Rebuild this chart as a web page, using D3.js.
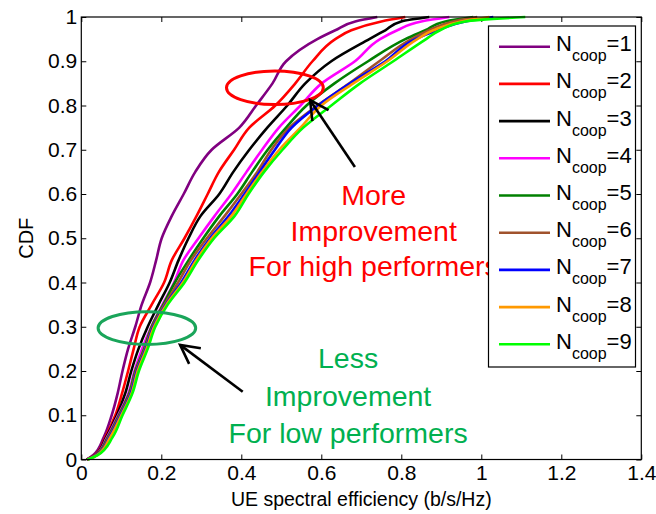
<!DOCTYPE html>
<html>
<head>
<meta charset="utf-8">
<script src="https://cdn.jsdelivr.net/npm/d3@7/dist/d3.min.js"></script>
<style>
  html, body { margin: 0; padding: 0; background: #fff; }
  svg { display: block; font-family: "Liberation Sans", Arial, Helvetica, sans-serif; }
</style>
</head>
<body>
<svg id="chart" width="656" height="514"></svg>
<script>
// CDF levels at which each curve's spectral efficiency quantile is listed
const cdfLevels = [0, 0.01, 0.05, 0.1, 0.15, 0.2, 0.25, 0.3, 0.35, 0.4, 0.45, 0.5,
                   0.55, 0.6, 0.65, 0.7, 0.75, 0.8, 0.85, 0.9, 0.95, 0.97, 0.99, 1];

// UE spectral efficiency (b/s/Hz) per number of cooperating cells
const coop1 = [0.014, 0.030, 0.056, 0.076, 0.091, 0.103, 0.117, 0.135, 0.151, 0.172, 0.187, 0.201,
               0.226, 0.256, 0.285, 0.326, 0.395, 0.437, 0.478, 0.512, 0.590, 0.635, 0.685, 0.740];
const coop2 = [0.014, 0.034, 0.060, 0.085, 0.102, 0.117, 0.131, 0.146, 0.176, 0.207, 0.226, 0.258,
               0.288, 0.316, 0.344, 0.382, 0.420, 0.485, 0.535, 0.578, 0.635, 0.675, 0.750, 0.810];
const coop3 = [0.014, 0.035, 0.062, 0.089, 0.110, 0.125, 0.143, 0.166, 0.193, 0.221, 0.243, 0.268,
               0.298, 0.345, 0.380, 0.420, 0.465, 0.515, 0.560, 0.625, 0.720, 0.760, 0.800, 0.870];
const coop4 = [0.015, 0.036, 0.064, 0.092, 0.118, 0.133, 0.152, 0.175, 0.203, 0.232, 0.255, 0.293,
               0.333, 0.375, 0.413, 0.452, 0.494, 0.548, 0.601, 0.684, 0.747, 0.790, 0.850, 0.920];
const coop5 = [0.015, 0.037, 0.066, 0.094, 0.120, 0.135, 0.157, 0.176, 0.205, 0.234, 0.268, 0.305,
               0.345, 0.390, 0.427, 0.466, 0.512, 0.563, 0.633, 0.717, 0.810, 0.860, 0.910, 0.980];
const coop6 = [0.015, 0.038, 0.068, 0.096, 0.122, 0.137, 0.159, 0.178, 0.208, 0.242, 0.274, 0.314,
               0.358, 0.400, 0.440, 0.475, 0.520, 0.590, 0.670, 0.745, 0.825, 0.870, 0.930, 0.990];
const coop7 = [0.016, 0.039, 0.070, 0.098, 0.124, 0.139, 0.161, 0.180, 0.211, 0.250, 0.283, 0.322,
               0.368, 0.408, 0.446, 0.484, 0.526, 0.592, 0.672, 0.760, 0.835, 0.890, 0.960, 1.030];
const coop8 = [0.016, 0.040, 0.072, 0.100, 0.126, 0.141, 0.163, 0.182, 0.213, 0.254, 0.287, 0.326,
               0.375, 0.413, 0.452, 0.495, 0.548, 0.600, 0.680, 0.765, 0.840, 0.880, 0.950, 1.020];
const coop9 = [0.016, 0.041, 0.078, 0.103, 0.128, 0.144, 0.166, 0.185, 0.216, 0.258, 0.292, 0.332,
               0.383, 0.418, 0.457, 0.503, 0.555, 0.625, 0.697, 0.780, 0.862, 0.897, 0.960, 1.110];

const seriesNames  = ["1", "2", "3", "4", "5", "6", "7", "8", "9"];
const seriesValues = [coop1, coop2, coop3, coop4, coop5, coop6, coop7, coop8, coop9];
const seriesColors = ["#800080", "#ff0000", "#000000", "#ff00ff", "#008000",
                      "#a0522d", "#0000ff", "#ff9900", "#00ff00"];

const xTicks = [0, 0.2, 0.4, 0.6, 0.8, 1, 1.2, 1.4];
const xTickLabels = ["0", "0.2", "0.4", "0.6", "0.8", "1", "1.2", "1.4"];
const yTicks = [0, 0.1, 0.2, 0.3, 0.4, 0.5, 0.6, 0.7, 0.8, 0.9, 1];
const yTickLabels = ["0", "0.1", "0.2", "0.3", "0.4", "0.5", "0.6", "0.7", "0.8", "0.9", "1"];

// Callout annotations, placed in data units
const highNote = { lines: ["More", "Improvement", "For high performers"], x: 0.731, y: [0.575, 0.494, 0.415], color: "#ff0000" };
const lowNote  = { lines: ["Less", "Improvement", "For low performers"], x: 0.667, y: [0.207, 0.121, 0.037], color: "#00b050" };
const highRing = { cx: 0.484, cy: 0.840, rx: 0.121, ry: 0.038, color: "#ff0000" };
const lowRing  = { cx: 0.164, cy: 0.297, rx: 0.122, ry: 0.037, color: "#1aa55a" };
const arrows = [
  { from: [0.684, 0.661], to: [0.572, 0.812] },
  { from: [0.4035, 0.153], to: [0.247, 0.259] }
];

const margin = { left: 81.3, right: 14.7, top: 17, bottom: 54.5 };
const W = 656, H = 514;
const iw = W - margin.left - margin.right;
const ih = H - margin.top - margin.bottom;

const svg = d3.select("#chart");
const g = svg.append("g").attr("transform", `translate(${margin.left},${margin.top})`);

const x = d3.scaleLinear().domain([0, 1.4]).range([0, iw]);
const y = d3.scaleLinear().domain([0, 1]).range([ih, 0]);

svg.append("defs").append("clipPath").attr("id", "plotClip")
  .append("rect").attr("x", 0).attr("y", -2).attr("width", iw).attr("height", ih + 4);

// Axes with inward ticks on all four sides
const tickFont = "21px";
g.append("g").attr("transform", `translate(0,${ih})`)
  .call(d3.axisBottom(x).tickValues(xTicks).tickFormat((d, i) => xTickLabels[i])
        .tickSizeInner(-5).tickSizeOuter(0).tickPadding(6));
g.append("g")
  .call(d3.axisLeft(y).tickValues(yTicks).tickFormat((d, i) => yTickLabels[i])
        .tickSizeInner(-5).tickSizeOuter(0).tickPadding(4));
g.append("g")
  .call(d3.axisTop(x).tickValues(xTicks).tickFormat("").tickSizeInner(-5).tickSizeOuter(0));
g.append("g").attr("transform", `translate(${iw},0)`)
  .call(d3.axisRight(y).tickValues(yTicks).tickFormat("").tickSizeInner(-5).tickSizeOuter(0));

g.selectAll(".domain").remove();
g.selectAll(".tick line").attr("stroke", "#000").attr("stroke-width", 1);
g.selectAll(".tick text").attr("font-size", tickFont).attr("fill", "#000")
  .attr("font-family", "'Liberation Sans', Arial, sans-serif");

// Curves
const line = d3.line()
  .x(d => x(d[1]))
  .y(d => y(d[0]))
  .curve(d3.curveMonotoneY);

const curves = g.append("g").attr("clip-path", "url(#plotClip)");
seriesValues.forEach((vals, i) => {
  const pts = cdfLevels.map((p, k) => [p, vals[k]]);
  curves.append("path")
    .attr("d", line(pts))
    .attr("fill", "none")
    .attr("stroke", seriesColors[i])
    .attr("stroke-width", 2.6)
    .attr("stroke-linejoin", "round");
});

// Plot frame
g.append("rect").attr("x", 0).attr("y", 0).attr("width", iw).attr("height", ih)
  .attr("fill", "none").attr("stroke", "#000").attr("stroke-width", 1.2);

// Axis titles
svg.append("text")
  .attr("x", margin.left + iw / 2).attr("y", 506)
  .attr("text-anchor", "middle").attr("font-size", "19.5px").attr("fill", "#000")
  .text("UE spectral efficiency (b/s/Hz)");
svg.append("text")
  .attr("transform", `translate(33,${margin.top + ih / 2}) rotate(-90)`)
  .attr("text-anchor", "middle").attr("font-size", "20px").attr("fill", "#000")
  .text("CDF");

// Legend
const leg = svg.append("g");
const legBox = { x: 488.5, y: 26, w: 147, h: 341 };
leg.append("rect").attr("x", legBox.x).attr("y", legBox.y)
  .attr("width", legBox.w).attr("height", legBox.h)
  .attr("fill", "#fff").attr("stroke", "#000").attr("stroke-width", 1.2);
const rowGap = 37.2;
seriesNames.forEach((name, i) => {
  const cy = legBox.y + 20.7 + i * rowGap;
  leg.append("line").attr("x1", legBox.x + 10.5).attr("x2", legBox.x + 61.5)
    .attr("y1", cy).attr("y2", cy)
    .attr("stroke", seriesColors[i]).attr("stroke-width", 2.6);
  const t = leg.append("text").attr("x", legBox.x + 67.5).attr("y", cy + 4.5)
    .attr("font-size", "22px").attr("fill", "#000");
  t.append("tspan").text("N");
  t.append("tspan").attr("dy", 10).attr("font-size", "16px").text("coop");
  t.append("tspan").attr("dy", -10).text("=" + name);
});

// Ellipses marking the compared regions
[highRing, lowRing].forEach(r => {
  g.append("ellipse")
    .attr("cx", x(r.cx)).attr("cy", y(r.cy))
    .attr("rx", x(r.rx) - x(0)).attr("ry", y(0) - y(r.ry))
    .attr("fill", "none").attr("stroke", r.color).attr("stroke-width", 3);
});

// Arrows with open heads
arrows.forEach(a => {
  const x0 = x(a.from[0]), y0 = y(a.from[1]);
  const x1 = x(a.to[0]), y1 = y(a.to[1]);
  const ang = Math.atan2(y1 - y0, x1 - x0);
  const len = 21, spread = Math.PI / 6.5;
  g.append("line").attr("x1", x0).attr("y1", y0).attr("x2", x1).attr("y2", y1)
    .attr("stroke", "#000").attr("stroke-width", 2.6);
  const p1 = [x1 - len * Math.cos(ang - spread), y1 - len * Math.sin(ang - spread)];
  const p2 = [x1 - len * Math.cos(ang + spread), y1 - len * Math.sin(ang + spread)];
  g.append("path")
    .attr("d", `M${p1[0]},${p1[1]}L${x1},${y1}L${p2[0]},${p2[1]}`)
    .attr("fill", "none").attr("stroke", "#000").attr("stroke-width", 2.6);
});

// Callout text, drawn above the legend
[highNote, lowNote].forEach(n => {
  n.lines.forEach((t, i) => {
    g.append("text")
      .attr("x", x(n.x)).attr("y", y(n.y[i]))
      .attr("text-anchor", "middle").attr("font-size", "28.5px")
      .attr("fill", n.color).text(t);
  });
});
</script>
</body>
</html>
